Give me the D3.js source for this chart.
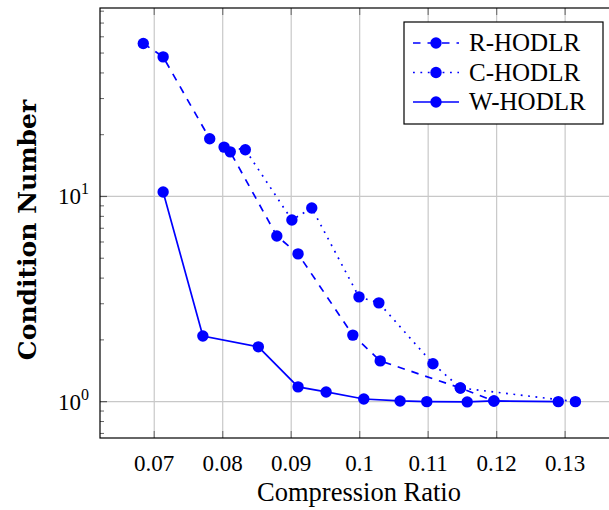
<!DOCTYPE html>
<html><head><meta charset="utf-8">
<script src="https://cdn.jsdelivr.net/npm/d3@7/dist/d3.min.js"></script>
<style>body{margin:0;background:#fff;} svg{display:block;}</style>
</head><body>
<svg id="c" width="609" height="510"></svg>
<script>
// ---- data ----
const seriesNames = ["R-HODLR", "C-HODLR", "W-HODLR"];
const rX = [0.0684, 0.0713, 0.0781, 0.0811, 0.0879, 0.0910, 0.0990, 0.1030, 0.1147, 0.1196];
const rY = [55.7, 47.9, 19.1, 16.5, 6.42, 5.25, 2.11, 1.58, 1.166, 1.008];
const cX = [0.0802, 0.0833, 0.0901, 0.0930, 0.0999, 0.1028, 0.1107, 0.1147, 0.1315];
const cY = [17.4, 16.9, 7.68, 8.79, 3.24, 3.03, 1.53, 1.166, 1.0];
const wX = [0.0713, 0.0771, 0.0852, 0.0910, 0.0951, 0.1006, 0.1059, 0.1098, 0.1157, 0.1196, 0.1290];
const wY = [10.52, 2.09, 1.85, 1.18, 1.115, 1.03, 1.008, 1.0, 0.997, 1.008, 1.0];
const xTicks = [0.07, 0.08, 0.09, 0.1, 0.11, 0.12, 0.13];
const xTickLabels = ["0.07", "0.08", "0.09", "0.1", "0.11", "0.12", "0.13"];
const yTicks = [1, 10];
const yTickExp = ["0", "1"];
const xLabel = "Compression Ratio";
const yLabel = "Condition Number";

const svg = d3.select("#c");
const L = 100, R = 618, T = 8, B = 438;
const x = d3.scaleLinear().domain([0.06208, 0.13772]).range([L, R]);
const y = d3.scaleLog().domain([0.665, 82.9]).range([B, T]);
const blue = "#0000ff";
const font = "'Liberation Serif', 'Times New Roman', serif";

// grid
const g = svg.append("g");
g.selectAll(".gx").data(xTicks).enter().append("line")
  .attr("x1", d => x(d)).attr("x2", d => x(d)).attr("y1", T).attr("y2", B)
  .attr("stroke", "#c8c8c8").attr("stroke-width", 1.2);
g.selectAll(".gy").data(yTicks).enter().append("line")
  .attr("y1", d => y(d)).attr("y2", d => y(d)).attr("x1", L).attr("x2", R)
  .attr("stroke", "#c8c8c8").attr("stroke-width", 1.2);

// minor y ticks
const minor = [];
[0.1, 1, 10].forEach(b => { for (let k = 2; k <= 9; k++) { const v = b * k; if (v > 0.665 && v < 82.9) minor.push(v); } });
g.selectAll(".my").data(minor).enter().append("line")
  .attr("y1", d => y(d)).attr("y2", d => y(d)).attr("x1", L).attr("x2", L + 4)
  .attr("stroke", "#666").attr("stroke-width", 1);
g.selectAll(".My").data(yTicks).enter().append("line")
  .attr("y1", d => y(d)).attr("y2", d => y(d)).attr("x1", L).attr("x2", L + 7)
  .attr("stroke", "#555").attr("stroke-width", 1.2);
// major x ticks bottom/top
g.selectAll(".tx").data(xTicks).enter().append("line")
  .attr("x1", d => x(d)).attr("x2", d => x(d)).attr("y1", B).attr("y2", B - 7)
  .attr("stroke", "#777").attr("stroke-width", 1.2);
g.selectAll(".tx2").data(xTicks).enter().append("line")
  .attr("x1", d => x(d)).attr("x2", d => x(d)).attr("y1", T).attr("y2", T + 7)
  .attr("stroke", "#777").attr("stroke-width", 1.2);

// frame
svg.append("rect").attr("x", L).attr("y", T).attr("width", R - L).attr("height", B - T)
  .attr("fill", "none").attr("stroke", "#000").attr("stroke-width", 1.2);

// tick labels
svg.selectAll(".xl").data(xTicks).enter().append("text")
  .attr("x", d => x(d)).attr("y", 471).attr("text-anchor", "middle")
  .attr("font-family", font).attr("font-size", 23).text((d, i) => xTickLabels[i]);
const yl = svg.selectAll(".yl").data(yTicks).enter().append("text")
  .attr("x", 89).attr("y", d => y(d) + 8).attr("text-anchor", "end")
  .attr("font-family", font).attr("font-size", 23);
yl.append("tspan").text("10");
yl.append("tspan").attr("dy", -10).attr("font-size", 16).text((d, i) => yTickExp[i]);

// axis labels
svg.append("text").attr("x", (L + R) / 2).attr("y", 501).attr("text-anchor", "middle")
  .attr("font-family", font).attr("font-size", 26.5).text(xLabel);
svg.append("text").attr("transform", `translate(36,230) rotate(-90)`)
  .attr("text-anchor", "middle").attr("font-family", "'DejaVu Serif', serif").attr("font-weight", "bold")
  .attr("font-size", 25).text(yLabel);

// series
const series = [
  {name: seriesNames[0], xs: rX, ys: rY, dash: "7.5,7"},
  {name: seriesNames[1], xs: cX, ys: cY, dash: "1.8,5.6"},
  {name: seriesNames[2], xs: wX, ys: wY, dash: null}
];
svg.append("clipPath").attr("id", "clip").append("rect")
  .attr("x", L).attr("y", T).attr("width", R - L).attr("height", B - T);
const plot = svg.append("g").attr("clip-path", "url(#clip)");
const line = d3.line().x(d => x(d[0])).y(d => y(d[1]));
series.forEach(s => {
  const pts = s.xs.map((v, i) => [v, s.ys[i]]);
  plot.append("path").attr("d", line(pts)).attr("fill", "none")
    .attr("stroke", blue).attr("stroke-width", 1.7)
    .attr("stroke-dasharray", s.dash);
  plot.selectAll(null).data(pts).enter().append("circle")
    .attr("cx", d => x(d[0])).attr("cy", d => y(d[1])).attr("r", 5.7)
    .attr("fill", blue);
});

// legend
const lg = svg.append("g");
lg.append("rect").attr("x", 404).attr("y", 22).attr("width", 199).attr("height", 102)
  .attr("fill", "#fff").attr("stroke", "#000").attr("stroke-width", 1.2);
series.forEach((s, i) => {
  const cy = 43 + i * 29.5;
  lg.append("line").attr("x1", 413).attr("x2", 459).attr("y1", cy).attr("y2", cy)
    .attr("stroke", blue).attr("stroke-width", 1.7).attr("stroke-dasharray", s.dash);
  lg.append("circle").attr("cx", 436).attr("cy", cy).attr("r", 5.7).attr("fill", blue);
  lg.append("text").attr("x", 469).attr("y", cy + 8).attr("font-family", font)
    .attr("font-size", 25).text(s.name);
});
</script>
</body></html>
